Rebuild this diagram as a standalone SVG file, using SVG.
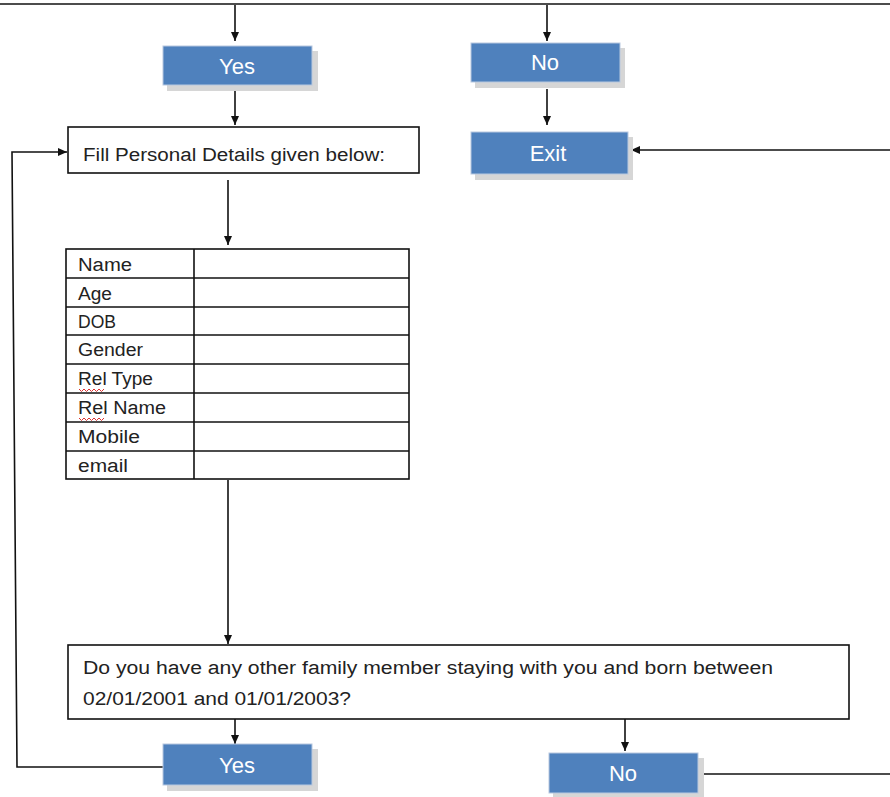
<svg xmlns="http://www.w3.org/2000/svg" width="890" height="797" viewBox="0 0 890 797">
<style>
.btn{fill:#4f81bd;stroke:#b8c8df;stroke-width:1}
.sh{fill:#d6d6d6}
.bt{font-family:"Liberation Sans",Arial,sans-serif;font-size:22px;fill:#fff;text-anchor:middle}
.box{fill:#fff;stroke:#111;stroke-width:1.6}
.tx{font-family:"Liberation Sans",Arial,sans-serif;font-size:18px;fill:#222}
.ln{fill:none;stroke:#111;stroke-width:1.6}
.sq{fill:none;stroke:#d33;stroke-width:1}
</style>
<defs>
<marker id="ah" markerWidth="10" markerHeight="10" refX="9" refY="5" orient="auto" markerUnits="userSpaceOnUse">
<path d="M0,1 L9,5 L0,9 Z" fill="#111"/>
</marker>
</defs>
<rect width="890" height="797" fill="#fff"/>
<g id="connectors">
<line class="ln" x1="0" y1="4" x2="890" y2="4" stroke="#333"/>
<line class="ln" x1="235" y1="5" x2="235" y2="41" marker-end="url(#ah)"/>
<line class="ln" x1="547" y1="5" x2="547" y2="41" marker-end="url(#ah)"/>
<line class="ln" x1="235" y1="91" x2="235" y2="125" marker-end="url(#ah)"/>
<line class="ln" x1="547" y1="89" x2="547" y2="125" marker-end="url(#ah)"/>
<line class="ln" x1="890" y1="150" x2="631" y2="150" marker-end="url(#ah)"/>
<line class="ln" x1="228" y1="180" x2="228" y2="245" marker-end="url(#ah)"/>
<line class="ln" x1="228" y1="480" x2="228" y2="644" marker-end="url(#ah)"/>
<line class="ln" x1="235" y1="719" x2="235" y2="744" marker-end="url(#ah)"/>
<line class="ln" x1="625" y1="719" x2="625" y2="751" marker-end="url(#ah)"/>
<polyline class="ln" points="163,767 17,767 12,152 67,152" marker-end="url(#ah)"/>
<line class="ln" x1="698" y1="774" x2="890" y2="774"/>
</g>
<g id="yes-top">
<rect class="sh" x="167" y="51" width="151" height="40"/>
<rect class="btn" x="163" y="46" width="149" height="39"/>
<text class="bt" x="237" y="74">Yes</text>
</g>
<g id="no-top">
<rect class="sh" x="475" y="48" width="150" height="40"/>
<rect class="btn" x="471" y="43" width="149" height="39"/>
<text class="bt" x="545" y="70">No</text>
</g>
<g id="exit">
<rect class="sh" x="475" y="137" width="158" height="43"/>
<rect class="btn" x="471" y="132" width="157" height="42"/>
<text class="bt" x="548" y="161">Exit</text>
</g>
<g id="fill-details">
<rect class="box" x="68" y="127" width="351" height="46"/>
<text class="tx" x="83" y="161" textLength="302" lengthAdjust="spacingAndGlyphs">Fill Personal Details given below:</text>
</g>
<g id="details-table">
<rect class="box" x="66" y="249" width="343" height="230"/>
<line class="ln" x1="194" y1="249" x2="194" y2="479"/>
<line class="ln" x1="66" y1="278" x2="409" y2="278"/>
<line class="ln" x1="66" y1="307" x2="409" y2="307"/>
<line class="ln" x1="66" y1="335" x2="409" y2="335"/>
<line class="ln" x1="66" y1="364" x2="409" y2="364"/>
<line class="ln" x1="66" y1="393" x2="409" y2="393"/>
<line class="ln" x1="66" y1="422" x2="409" y2="422"/>
<line class="ln" x1="66" y1="451" x2="409" y2="451"/>
<text class="tx" x="78" y="271" textLength="54" lengthAdjust="spacingAndGlyphs">Name</text>
<text class="tx" x="78" y="300" textLength="34" lengthAdjust="spacingAndGlyphs">Age</text>
<text class="tx" x="78" y="328" textLength="38" lengthAdjust="spacingAndGlyphs">DOB</text>
<text class="tx" x="78" y="356" textLength="65" lengthAdjust="spacingAndGlyphs">Gender</text>
<text class="tx" x="78" y="385" textLength="75" lengthAdjust="spacingAndGlyphs">Rel Type</text>
<text class="tx" x="78" y="414" textLength="88" lengthAdjust="spacingAndGlyphs">Rel Name</text>
<text class="tx" x="78" y="443" textLength="62" lengthAdjust="spacingAndGlyphs">Mobile</text>
<text class="tx" x="78" y="472" textLength="50" lengthAdjust="spacingAndGlyphs">email</text>
<path class="sq" d="M79,389 l2.5,2.5 l2.5,-2.5 l2.5,2.5 l2.5,-2.5 l2.5,2.5 l2.5,-2.5 l2.5,2.5 l2.5,-2.5 l2.5,2.5 l2.5,-2.5"/>
<path class="sq" d="M79,418 l2.5,2.5 l2.5,-2.5 l2.5,2.5 l2.5,-2.5 l2.5,2.5 l2.5,-2.5 l2.5,2.5 l2.5,-2.5 l2.5,2.5 l2.5,-2.5"/>
</g>
<g id="question">
<rect class="box" x="68" y="645" width="781" height="74"/>
<text class="tx" x="83" y="674" textLength="690" lengthAdjust="spacingAndGlyphs">Do you have any other family member staying with you and born between</text>
<text class="tx" x="83" y="705" textLength="268" lengthAdjust="spacingAndGlyphs">02/01/2001 and 01/01/2003?</text>
</g>
<g id="yes-bottom">
<rect class="sh" x="167" y="749" width="151" height="42"/>
<rect class="btn" x="163" y="744" width="149" height="41"/>
<text class="bt" x="237" y="773">Yes</text>
</g>
<g id="no-bottom">
<rect class="sh" x="553" y="758" width="151" height="40"/>
<rect class="btn" x="549" y="753" width="149" height="40"/>
<text class="bt" x="623" y="781">No</text>
</g>
</svg>
